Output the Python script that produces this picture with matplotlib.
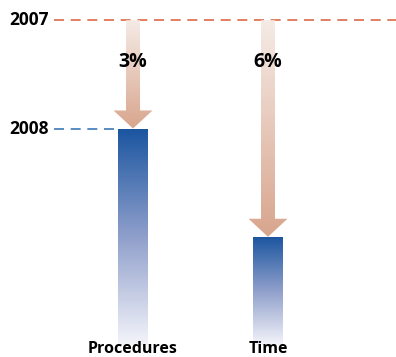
import numpy as np
import matplotlib.pyplot as plt
from matplotlib.patches import Polygon, Rectangle
from matplotlib.colors import LinearSegmentedColormap

plt.rcParams['font.family'] = ['Open Sans', 'DejaVu Sans']

# data: index with 2007 = 100
categories = ['Procedures', 'Time']
base_2007 = 100
values_2008 = [97, 94]
pct_labels = ['3%', '6%']
year_labels = ['2007', '2008']

fig = plt.figure(figsize=(3.96, 3.57), dpi=100)
ax = fig.add_axes([0, 0, 1, 1])
ax.set_xlim(0, 396)
ax.set_ylim(90.67, 100.56)
ax.axis('off')

xpos = [133, 268]
bar_w = 30
bottom = 91

bar_cmap = LinearSegmentedColormap.from_list('bar', ['#f4f4fa', '#8f9fcb', '#1a55a0'])
arr_cmap = LinearSegmentedColormap.from_list('arr', ['#f5ebe6', '#d8a58d'])
grad = np.linspace(0, 1, 256).reshape(-1, 1)

# reference lines
ax.plot([54, 396], [base_2007, base_2007], color='#dc6a48', lw=1.2, ls=(0, (6, 4)))
ax.plot([54, xpos[0] - bar_w / 2], [values_2008[0]] * 2, color='#3c7ab8', lw=1.2, ls=(0, (6, 4)))
ax.text(9, base_2007, year_labels[0], fontsize=12.5, fontweight='bold', va='center', ha='left')
ax.text(9, values_2008[0], year_labels[1], fontsize=12.5, fontweight='bold', va='center', ha='left')

for x, v, lab, pct in zip(xpos, values_2008, categories, pct_labels):
    # bar with gradient
    im = ax.imshow(grad, cmap=bar_cmap, aspect='auto', origin='lower',
                   extent=[x - bar_w / 2, x + bar_w / 2, bottom, v], zorder=2)
    clip = Rectangle((x - bar_w / 2, bottom), bar_w, v - bottom, transform=ax.transData)
    im.set_clip_path(clip)

    # arrow with gradient
    head_h = 0.5
    sw, hw = 7, 19.5
    pts = [(x - sw, base_2007), (x + sw, base_2007), (x + sw, v + head_h),
           (x + hw, v + head_h), (x, v), (x - hw, v + head_h), (x - sw, v + head_h)]
    poly = Polygon(pts, closed=True, facecolor='none', edgecolor='none', transform=ax.transData)
    ax.add_patch(poly)
    ima = ax.imshow(grad[::-1], cmap=arr_cmap, aspect='auto', origin='lower',
                    extent=[x - hw, x + hw, v, base_2007], zorder=3)
    ima.set_clip_path(poly)

    ax.text(x, 98.85, pct, fontsize=14, fontweight='bold', ha='center', va='center', zorder=4)
    ax.text(x, 90.68, lab, fontsize=11.5, fontweight='bold', ha='center', va='bottom')

ax.set_xlim(0, 396)
ax.set_ylim(90.67, 100.56)
fig.savefig('out.png', dpi=100)
